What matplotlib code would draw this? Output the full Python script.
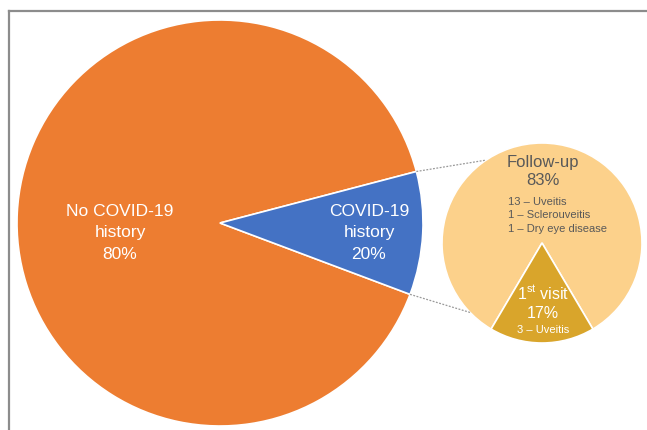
import numpy as np
import matplotlib
matplotlib.use("Agg")
import matplotlib.pyplot as plt
from matplotlib.lines import Line2D

plt.rcParams['font.family'] = ['Liberation Sans', 'DejaVu Sans']
plt.rcParams['mathtext.fontset'] = 'custom'
plt.rcParams['mathtext.rm'] = 'Liberation Sans'

# main pie: label percentages, and the wedge shares as they are drawn
main_labels = ['No COVID-19\nhistory', 'COVID-19\nhistory']
main_pct = [80, 20]
main_drawn = [90.2, 9.8]
main_colors = ['#ED7D31', '#4472C4']

# second pie (breakdown of the COVID-19 history group)
sub_labels = ['Follow-up', '1$^{\\mathrm{st}}$ visit']
sub_pct = [83, 17]
sub_notes = [['13 \u2013 Uveitis', '1 \u2013 Sclerouveitis', '1 \u2013 Dry eye disease'],
             ['3 \u2013 Uveitis']]
sub_colors = ['#FCD18B', '#D9A52B']

W, H = 647, 431
fig = plt.figure(figsize=(W / 100, H / 100), dpi=100)
ax = fig.add_axes([0, 0, 1, 1])

main_c = (220, H - 224)
main_r = 203
sub_c = (542, H - 244)
sub_r = 100

wm, _ = ax.pie(main_drawn, colors=main_colors, startangle=14.7, center=main_c,
               radius=main_r, wedgeprops=dict(edgecolor='white', linewidth=1.2))
ws, _ = ax.pie(sub_pct, colors=sub_colors, startangle=90 + 210.6, center=sub_c,
               radius=sub_r, wedgeprops=dict(edgecolor='white', linewidth=1.2))

# dotted connectors from the blue wedge to the second pie
blue = wm[1]
for a_main, a_sub in [(blue.theta2, 124), (blue.theta1, 224)]:
    p1 = (main_c[0] + main_r * np.cos(np.radians(a_main)),
          main_c[1] + main_r * np.sin(np.radians(a_main)))
    p2 = (sub_c[0] + sub_r * np.cos(np.radians(a_sub)),
          sub_c[1] + sub_r * np.sin(np.radians(a_sub)))
    ax.plot([p1[0], p2[0]], [p1[1], p2[1]], color='#9a9a9a', lw=0.9,
            linestyle=(0, (1.5, 1.2)))

# labels
ax.text(120, H - 233, f'{main_labels[0]}\n{main_pct[0]}%', color='white',
        fontsize=12.5, ha='center', va='center', linespacing=1.52)
ax.text(369, H - 233, f'{main_labels[1]}\n{main_pct[1]}%', color='white',
        fontsize=12.5, ha='center', va='center', linespacing=1.52)

ax.text(543, H - 171.5, f'{sub_labels[0]}\n{sub_pct[0]}%', color='#595959',
        fontsize=12, ha='center', va='center', linespacing=1.3)
ax.text(508, H - 215.5, '\n'.join(sub_notes[0]), color='#595959',
        fontsize=8, ha='left', va='center', linespacing=1.42)

ax.text(543, H - 302.5, f'{sub_labels[1]}\n{sub_pct[1]}%', color='white',
        fontsize=11.5, ha='center', va='center', linespacing=1.3)
ax.text(543, H - 330, sub_notes[1][0], color='white',
        fontsize=8, ha='center', va='center')

ax.set_xlim(0, W)
ax.set_ylim(0, H)
ax.set_aspect('equal')
ax.axis('off')

# partial frame (top and left) around the panel
fig.add_artist(Line2D([9 / W, 1], [1 - 12 / H, 1 - 12 / H], transform=fig.transFigure,
                      color='#8c8c8c', lw=1.6))
fig.add_artist(Line2D([9 / W, 9 / W], [0, 1 - 12 / H], transform=fig.transFigure,
                      color='#8c8c8c', lw=1.6))

fig.savefig('out.png', dpi=100)
